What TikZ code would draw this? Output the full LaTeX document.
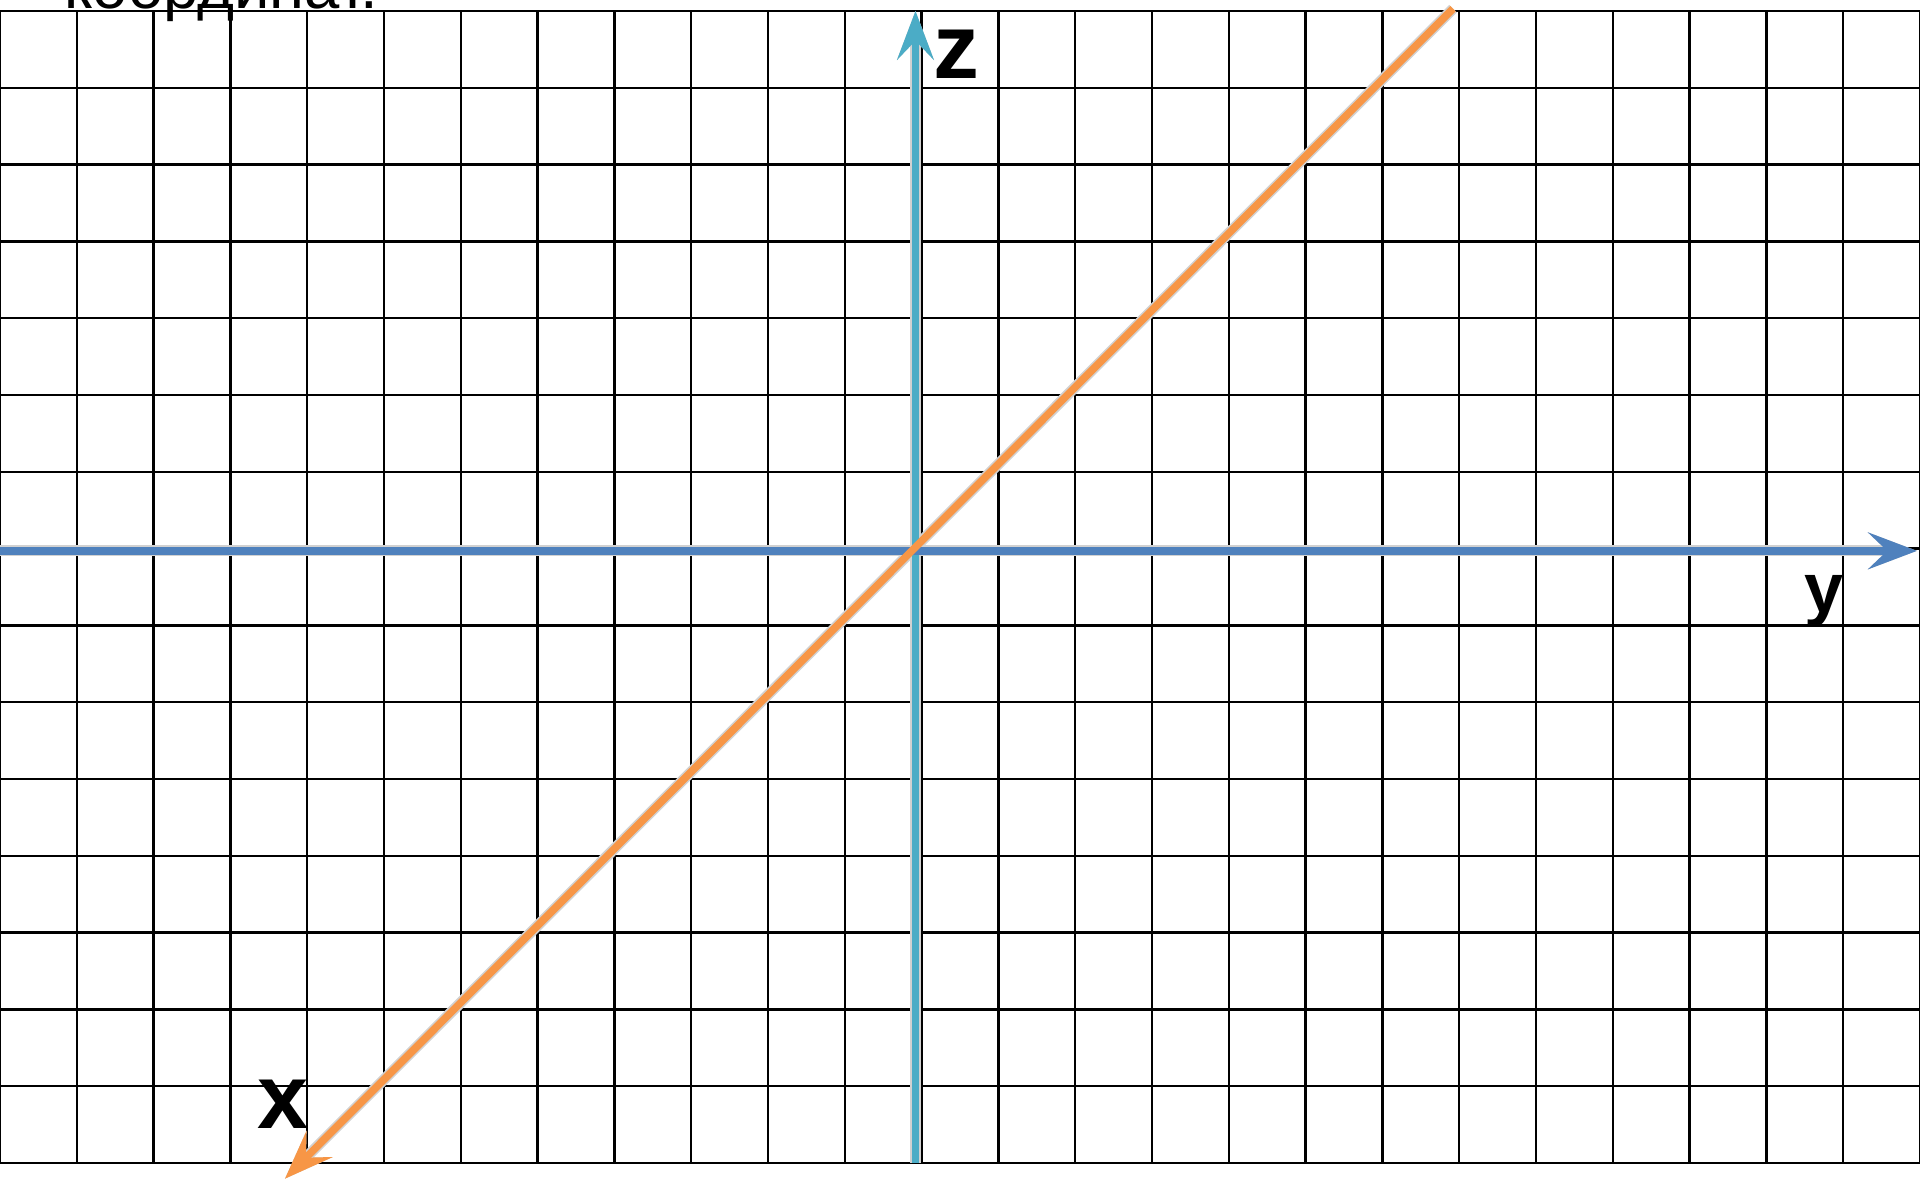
\documentclass[tikz,border=0pt]{standalone}
\usepackage{fontspec}
\setmainfont{Liberation Sans}
\usetikzlibrary{arrows.meta}

\definecolor{axisblue}{HTML}{4F81BD}
\definecolor{axisteal}{HTML}{4BACC6}
\definecolor{axisorange}{HTML}{F79646}

\begin{document}
\begin{tikzpicture}[
        gridline/.style={black, line width=0.85pt},
        axis/.style={line width=2.8pt, -{Stealth[length=18pt, width=13.5pt, inset=7pt]}},
        axisshadow/.style={draw=black!18, line width=4pt, -{Stealth[length=18pt, width=13.5pt, inset=7pt, fill=black!18]}, shift={(0.05,-0.06)}},
        axislabel/.style={font=\bfseries\fontsize{34}{34}\selectfont, inner sep=0pt}
    ]

    \useasboundingbox (0,-0.234) rectangle (25,15.143);

    % squared paper
    \draw[gridline] (0,0) grid (25,15);
    \node[anchor=base west, inner sep=0pt, font=\fontsize{23.5}{23.5}\selectfont] (caption) at (0.83,15.03) {координат.};

    \coordinate (origin) at (11.92,7.97);
    \coordinate (yStart) at (0,7.97);
    \coordinate (yEnd) at (24.96,7.97);
    \coordinate (zStart) at (11.92,0);
    \coordinate (zEnd) at (11.92,15.0);
    \coordinate (xStart) at (18.92,15.03);
    \coordinate (xEnd) at (3.71,-0.205);

    % shadows under the axes
    \draw[axisshadow] (zStart) -- (zEnd);
    \draw[axisshadow] (yStart) -- (yEnd);
    \draw[axisshadow] (xStart) -- (xEnd);

    \draw[axis, axisteal] (zStart) -- (zEnd);
    \draw[axis, axisblue] (yStart) -- (yEnd);
    \draw[axis, axisorange] (xStart) -- (xEnd);

    \node[axislabel] (zlabel) at (12.46,14.43) {z};
    \node[axislabel, font=\bfseries\fontsize{26}{26}\selectfont] (ylabel) at (23.75,7.31) {y};
    \node[axislabel] (xlabel) at (3.69,0.77) {x};

\end{tikzpicture}
\end{document}
